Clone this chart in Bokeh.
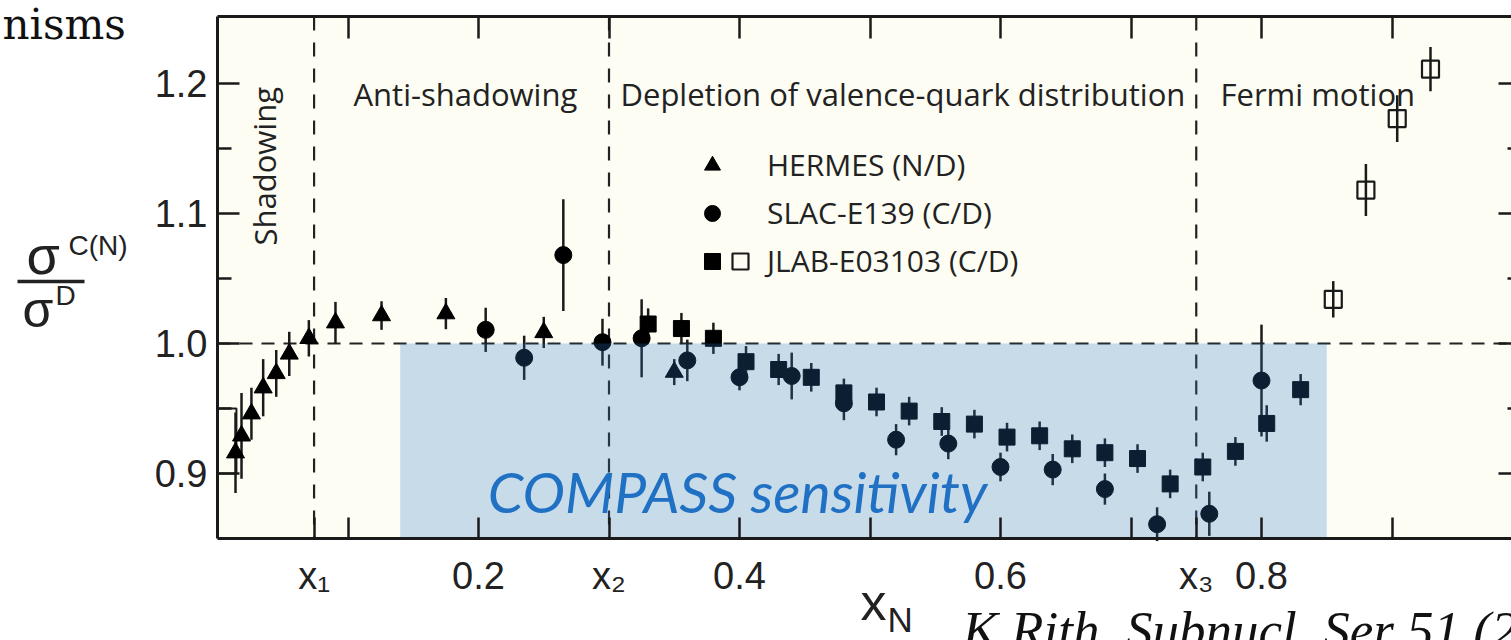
from bokeh.plotting import figure
from bokeh.models import (Range1d, FixedTicker, LinearAxis, Label, Legend, LegendItem,
                          PrintfTickFormatter)
from bokeh.core.properties import value
from bokeh.embed import file_html
from bokeh.resources import INLINE

# ---------------- data ----------------
hermes_x = [0.0138, 0.0184, 0.026, 0.035, 0.045, 0.055, 0.070, 0.0904, 0.1257, 0.175, 0.25, 0.35]
hermes_y = [0.916, 0.929, 0.946, 0.966, 0.977, 0.992, 1.004, 1.016, 1.0215, 1.023, 1.0085, 0.978]
hermes_err = [0.031, 0.033, 0.020, 0.022, 0.018, 0.017, 0.014, 0.016, 0.011, 0.012, 0.012, 0.010]

slac_x = [0.2055, 0.235, 0.265, 0.295, 0.325, 0.36, 0.40, 0.44, 0.48, 0.52, 0.56, 0.60,
          0.64, 0.68, 0.72, 0.76, 0.80]
slac_y = [1.0105, 0.989, 1.068, 1.001, 1.004, 0.987, 0.974, 0.975, 0.954, 0.926, 0.923, 0.905,
          0.903, 0.888, 0.861, 0.869, 0.9715]
slac_err = [0.017, 0.017, 0.043, 0.018, 0.030, 0.016, 0.010, 0.018, 0.013, 0.012, 0.012, 0.011,
            0.012, 0.012, 0.013, 0.017, 0.043]

jlab_x = [0.33, 0.3555, 0.38, 0.405, 0.43, 0.455, 0.48, 0.505, 0.53, 0.555, 0.58, 0.605,
          0.63, 0.655, 0.68, 0.705, 0.73, 0.755, 0.78, 0.804, 0.83]
jlab_y = [1.015, 1.0115, 1.004, 0.986, 0.98, 0.974, 0.962, 0.955, 0.948, 0.94, 0.938, 0.928,
          0.929, 0.919, 0.916, 0.9115, 0.892, 0.905, 0.917, 0.9385, 0.9645]
jlab_err = [0.012, 0.012, 0.012, 0.012, 0.012, 0.011, 0.011, 0.011, 0.011, 0.011, 0.011, 0.011,
            0.011, 0.011, 0.011, 0.011, 0.011, 0.011, 0.011, 0.014, 0.012]

jlab_open_x = [0.855, 0.88, 0.904, 0.9295]
jlab_open_y = [1.034, 1.118, 1.173, 1.211]
jlab_open_err = [0.014, 0.020, 0.018, 0.017]

box_left, box_right, box_bottom, box_top = [0.0], [0.0145], [0.90], [0.95]

x_bounds = [0.074, 0.30, 0.75]           # x1, x2, x3
ref_level = [1.0]
compass_left, compass_right, compass_top = [0.14], [0.85], [1.0]

x_lo, x_hi = 0.0, 1.0                    # plotted x extent
y_lo, y_hi = 0.85, 1.2515                # plotted y extent

x_major = [0.074, 0.2, 0.3, 0.4, 0.6, 0.75, 0.8]
x_labels = {0.074: "x\u2081", 0.2: "0.2", 0.3: "x\u2082", 0.4: "0.4",
            0.6: "0.6", 0.75: "x\u2083", 0.8: "0.8"}
x_minor = [0.1, 0.5, 0.7, 0.9]
x_top_ticks = [0.1, 0.2, 0.3, 0.4, 0.5, 0.6, 0.7, 0.8, 0.9]
y_major = [0.9, 1.0, 1.1, 1.2]
y_minor = [0.95, 1.05, 1.15]

region_names = ["Anti-shadowing", "Depletion of valence-quark distribution", "Fermi motion"]
legend_names = ["HERMES (N/D)", "SLAC-E139 (C/D)", "JLAB-E03103 (C/D)"]

# ---------------- geometry helpers (pixel -> data, for text placement) ----------------
W, H = 1511, 640


def X(px):
    return (px - 217) / 1305.0


def Y(py):
    return 1.0 + (343 - py) / 1300.0


INK = "#1a1a1a"
TXT = "#222222"
p = figure(width=W, height=H, x_range=Range1d(X(0), X(W)), y_range=Range1d(Y(H), Y(0)),
           output_backend="svg", toolbar_location=None,
           x_axis_location=None, y_axis_location=None,
           min_border=0, min_border_left=0, min_border_right=0, min_border_top=0,
           min_border_bottom=0,
           background_fill_color="white", border_fill_color="white", outline_line_color=None)
p.grid.visible = False

# plot-area background
p.quad(left=[x_lo], right=[x_hi], bottom=[y_lo], top=[y_hi], fill_color="#fdfdf4",
       line_color=None, level="underlay")

# ---------------- axes (fixed at the plot-area edges) ----------------
bottom = LinearAxis(fixed_location=y_lo, bounds=(x_lo, x_hi),
                    ticker=FixedTicker(ticks=x_major, minor_ticks=x_minor),
                    major_label_overrides=x_labels)
bottom.major_tick_in = 21
bottom.minor_tick_in = 21
bottom.major_label_standoff = 16
bottom.major_label_text_font_size = "38px"
p.add_layout(bottom, "below")

left = LinearAxis(fixed_location=x_lo, bounds=(y_lo, y_hi),
                  ticker=FixedTicker(ticks=y_major, minor_ticks=y_minor),
                  formatter=PrintfTickFormatter(format="%.1f"))
left.major_tick_in = 22
left.minor_tick_in = 14
left.major_label_standoff = 10
left.major_label_text_font_size = "38px"
p.add_layout(left, "left")

top = LinearAxis(fixed_location=y_hi, bounds=(x_lo, x_hi),
                 ticker=FixedTicker(ticks=[], minor_ticks=x_top_ticks))
top.minor_tick_in = 22
p.add_layout(top, "above")

right_major = LinearAxis(fixed_location=x_hi, bounds=(y_lo, y_hi),
                         ticker=FixedTicker(ticks=[], minor_ticks=y_major))
right_major.minor_tick_in = 24
p.add_layout(right_major, "right")
right_minor = LinearAxis(fixed_location=x_hi, bounds=(y_lo, y_hi),
                         ticker=FixedTicker(ticks=[], minor_ticks=y_minor))
right_minor.minor_tick_in = 15
p.add_layout(right_minor, "right")

for ax in (bottom, left, top, right_major, right_minor):
    ax.major_tick_out = 0
    ax.minor_tick_out = 0
    ax.major_tick_line_width = 2.5
    ax.minor_tick_line_width = 2.5
    ax.major_tick_line_color = INK
    ax.minor_tick_line_color = INK
    ax.axis_line_width = 3
    ax.axis_line_color = INK
    ax.major_label_text_font = "Liberation Sans"
    ax.major_label_text_color = TXT

# ---------------- dashed reference / boundary lines ----------------
p.segment(x0=[x_lo], x1=[x_hi], y0=ref_level, y1=ref_level, line_color=TXT,
          line_width=2.2, line_dash="13 9")
p.segment(x0=x_bounds, x1=x_bounds, y0=[y_hi] * len(x_bounds), y1=[y_lo] * len(x_bounds),
          line_color=TXT, line_width=2.2, line_dash="14 12")

# systematic box at the left edge
p.quad(left=box_left, right=box_right, bottom=box_bottom, top=box_top,
       fill_alpha=0, line_color=INK, line_width=2)


def errbars(xs, ys, es):
    p.segment(x0=xs, x1=xs, y0=[y - e for y, e in zip(ys, es)],
              y1=[y + e for y, e in zip(ys, es)], line_color=INK, line_width=2.5)


errbars(hermes_x, hermes_y, hermes_err)
errbars(slac_x, slac_y, slac_err)
errbars(jlab_x, jlab_y, jlab_err)
errbars(jlab_open_x, jlab_open_y, jlab_open_err)

r_tri = p.scatter(hermes_x, hermes_y, marker="triangle", size=18, color="black")
r_circ = p.scatter(slac_x, slac_y, marker="circle", size=17, color="black")
r_sq = p.scatter(jlab_x, jlab_y, marker="square", size=16, color="black")
r_open = p.scatter(jlab_open_x, jlab_open_y, marker="square", size=17, fill_alpha=0,
                   line_color=INK, line_width=2.2)

# COMPASS sensitivity band (semi-transparent overlay)
p.quad(left=compass_left, right=compass_right, bottom=[y_lo], top=compass_top,
       fill_color="#2d79c9", fill_alpha=0.25, line_color=None)
p.text(x=[X(737)], y=[Y(490)], text=["COMPASS sensitivity"], text_font=value("Lato"),
       text_font_style="italic", text_font_size="57px", text_color="#2070c4",
       text_align="center", text_baseline="middle")

# region labels
p.text(x=[X(353), X(620), X(1220)], y=[Y(93)] * 3, text=region_names,
       text_font=value("Open Sans"), text_font_size="31px", text_color=TXT,
       text_align="left", text_baseline="alphabetic")
p.text(x=[X(264)], y=[Y(245)], text=["Shadowing"], angle=1.5708,
       text_font=value("Open Sans"), text_font_size="31px", text_color=TXT,
       text_align="left", text_baseline="alphabetic")

# ---------------- legend ----------------
common = dict(glyph_width=40, glyph_height=40, label_height=40, spacing=7, padding=0, margin=0,
              label_text_font="Open Sans", label_text_font_size="30px",
              label_text_color=TXT, background_fill_alpha=0, border_line_alpha=0)
leg = Legend(items=[LegendItem(label=legend_names[0], renderers=[r_tri]),
                    LegendItem(label=legend_names[1], renderers=[r_circ]),
                    LegendItem(label=legend_names[2], renderers=[r_sq])],
             location=(692, 359), label_standoff=35, **common)
p.add_layout(leg)
leg2 = Legend(items=[LegendItem(label=" ", renderers=[r_open])],
              location=(720, 359), label_standoff=0, **common)
p.add_layout(leg2)


# ---------------- axis titles and page text ----------------
def lab(px, base_py, text, size, font="Liberation Sans", style="normal", color=TXT):
    # base_py: wanted baseline (pixels from top); compensate the renderer's baseline shift
    py = base_py - 0.35 * size
    p.add_layout(Label(x=X(px), y=Y(py), text=text, text_font=font,
                       text_font_size=f"{size}px", text_font_style=style, text_color=color,
                       text_align="left", text_baseline="alphabetic"))


lab(860, 620, "x", 52)
lab(887, 631, "N", 35)

# y label: sigma^C(N) over sigma^D
lab(26, 273, "\u03c3", 54)
lab(68, 255, "C(N)", 28)
p.segment(x0=[X(17)], x1=[X(84)], y0=[Y(281)], y1=[Y(281)], line_color=TXT, line_width=3.5)
lab(22, 327, "\u03c3", 50)
lab(55, 305, "D", 28)

lab(2, 39, "nisms", 42, font="DejaVu Serif", color="#111111")
lab(962, 648, "K.Rith, Subnucl. Ser 51 (2015)", 53, font="Liberation Serif",
    style="italic", color="#111111")

open("out.html", "w").write(file_html(p, INLINE))
